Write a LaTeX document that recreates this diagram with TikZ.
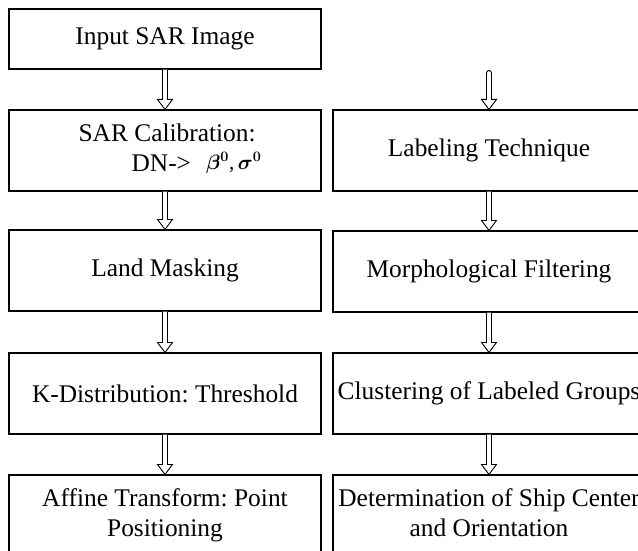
\documentclass[tikz,border=0pt]{standalone}
\usepackage{fontspec}
\setmainfont{Liberation Serif}
\usetikzlibrary{calc}
\frenchspacing
\tikzset{
  box/.style={draw=black, line width=1.1pt, minimum width=312pt, minimum height=81pt,
    inner sep=0pt, align=center, font=\fontsize{25.4}{30}\selectfont},
  arr/.style={draw=black, line width=0.9pt, fill=white, line join=miter}
}
\newcommand{\blockarr}[2]{%
  \path[arr] let \p1=(#1), \p2=(#2.north) in
    (\x2-2.5pt,\y1) -- (\x2-2.5pt,\y2+10pt) -- (\x2-7.5pt,\y2+10pt) -- (\x2,\y2)
    -- (\x2+7.5pt,\y2+10pt) -- (\x2+2.5pt,\y2+10pt) -- (\x2+2.5pt,\y1);}
\begin{document}
\begin{tikzpicture}[x=1pt,y=-1pt]
\useasboundingbox (0,0) rectangle (638,551);
% left column
\node[box, minimum height=60pt] (l1) at (165,39) {Input SAR Image};
\node[box] (l2) at (165,150.5) {\begin{tabular}{@{}l@{}}\hspace*{10pt}SAR Calibration:\\
  \hspace*{63pt}DN->\hspace{15pt}{\fontsize{21}{24}\selectfont\boldmath\raisebox{2pt}{$\beta^{0}$,\,$\sigma^{0}$}}\end{tabular}};
\node[box] (l3) at (165,270.5) {Land Masking};
\node[box] (l4) at (165,393.5) {K-Distribution: Threshold};
\node[box] (l5) at (165,515.5) {\raisebox{5pt}{\begin{tabular}{@{}c@{}}Affine Transform: Point\\Positioning\end{tabular}}};
% right column
\node[box] (r1) at (489,150.5) {Labeling Technique};
\node[box] (r2) at (489,271.5) {Morphological Filtering};
\node[box] (r3) at (489,393.5) {Clustering of Labeled Groups};
\node[box] (r4) at (489,515.5) {\raisebox{5pt}{\begin{tabular}{@{}c@{}}Determination of Ship Center\\and Orientation\end{tabular}}};
% arrows
\blockarr{l1.south}{l2}
\blockarr{l2.south}{l3}
\blockarr{l3.south}{l4}
\blockarr{l4.south}{l5}
\coordinate (rtop) at (489,73);
\path[arr] let \p1=(rtop), \p2=(r1.north) in
  (\x2-2.5pt,\y1) -- (\x2-2.5pt,\y2+10pt) -- (\x2-7.5pt,\y2+10pt) -- (\x2,\y2)
  -- (\x2+7.5pt,\y2+10pt) -- (\x2+2.5pt,\y2+10pt) -- (\x2+2.5pt,\y1)
  arc[start angle=0, end angle=180, radius=2.5pt] -- cycle;
\blockarr{r1.south}{r2}
\blockarr{r2.south}{r3}
\blockarr{r3.south}{r4}
\end{tikzpicture}
\end{document}
